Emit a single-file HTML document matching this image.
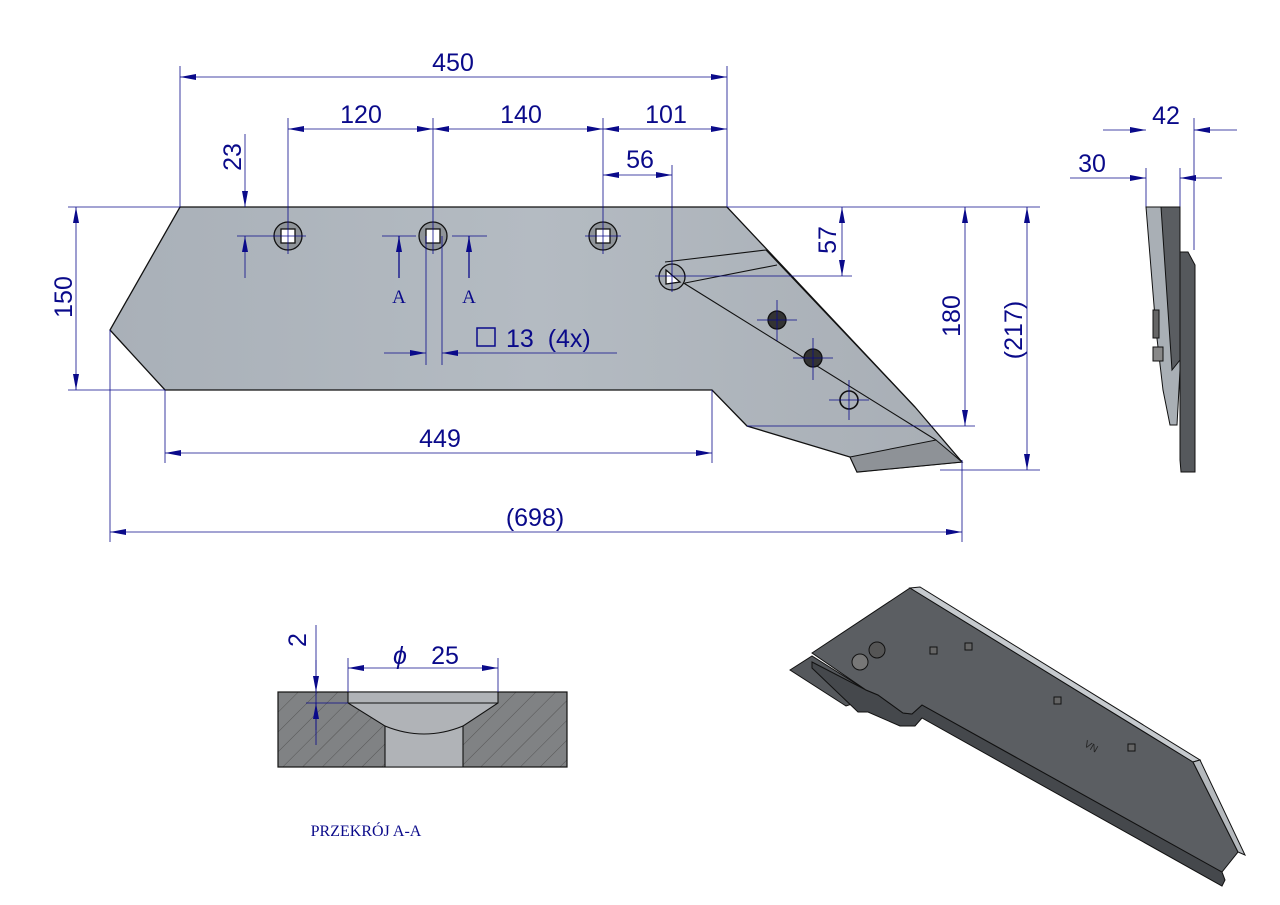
<!DOCTYPE html>
<html><head><meta charset="utf-8"><style>html,body{margin:0;padding:0;background:#fff}svg{display:block}</style></head>
<body>
<svg width="1280" height="905" viewBox="0 0 1280 905" xmlns="http://www.w3.org/2000/svg" font-family="Liberation Sans, sans-serif">
<defs>
<marker id="a" viewBox="0 0 16 6" refX="16" refY="3" markerWidth="16" markerHeight="6" markerUnits="userSpaceOnUse" orient="auto-start-reverse"><path d="M0,0 L16,3 L0,6 z" fill="#0a0a8a"/></marker>
<linearGradient id="g" x1="0" x2="1" y1="0" y2="0"><stop offset="0" stop-color="#a9b0b8"/><stop offset="0.5" stop-color="#b4bbc2"/><stop offset="1" stop-color="#a8aeb5"/></linearGradient>
<pattern id="h" width="14" height="14" patternUnits="userSpaceOnUse" patternTransform="rotate(45)"><rect width="14" height="14" fill="#808284"/><line x1="0" y1="0" x2="0" y2="14" stroke="#555" stroke-width="1"/></pattern>
</defs>
<!-- main blade -->
<polygon points="180,207 727,207 915,407 962,462 857,472 850,457 747,426 712,390 165,390 110,330" fill="url(#g)" stroke="#111" stroke-width="1.3"/>
<polygon points="850,457 936,440 962,462 857,472" fill="#8e9297" stroke="#111" stroke-width="1"/>
<g stroke="#111" stroke-width="1.1" fill="none">
<polyline points="665,262 766,250"/><polyline points="685,283 777,265"/>
<line x1="682" y1="282" x2="936" y2="440"/>
<line x1="766" y1="250" x2="915" y2="407"/>
</g>
<g stroke="#111" stroke-width="1.3">
<circle cx="288" cy="236" r="14" fill="#8f9499"/><rect x="281" y="229" width="14" height="14" fill="#fff"/>
<circle cx="433" cy="236" r="14" fill="#8f9499"/><rect x="426" y="229" width="14" height="14" fill="#fff"/>
<circle cx="603" cy="236" r="14" fill="#8f9499"/><rect x="596" y="229" width="14" height="14" fill="#fff"/>
<circle cx="672" cy="277" r="13" fill="#a6acb2"/><polygon points="666,270 680,282 666,284" fill="#fff"/>
<circle cx="777" cy="320" r="9" fill="#333"/><circle cx="813" cy="358" r="9" fill="#333"/>
<circle cx="849" cy="400" r="9" fill="none" stroke-width="1.6"/>
</g>
<g stroke="#0a0a8a" stroke-width="0.8" fill="none">
<line x1="180" y1="66" x2="180" y2="207"/><line x1="727" y1="66" x2="727" y2="207"/>
<line x1="288" y1="118" x2="288" y2="254"/><line x1="433" y1="118" x2="433" y2="254"/><line x1="603" y1="118" x2="603" y2="254"/>
<line x1="672" y1="165" x2="672" y2="292"/>
<line x1="68" y1="207" x2="180" y2="207"/><line x1="68" y1="390" x2="165" y2="390"/>
<line x1="727" y1="207" x2="1040" y2="207"/>
<line x1="655" y1="276" x2="852" y2="276"/>
<line x1="747" y1="426" x2="975" y2="426"/>
<line x1="940" y1="470" x2="1040" y2="470"/>
<line x1="110" y1="330" x2="110" y2="542"/><line x1="962" y1="460" x2="962" y2="542"/>
<line x1="165" y1="390" x2="165" y2="463"/><line x1="712" y1="390" x2="712" y2="463"/>
<line x1="237" y1="236" x2="306" y2="236"/>
<line x1="382" y1="236" x2="416" y2="236"/><line x1="452" y1="236" x2="487" y2="236"/>
<line x1="585" y1="236" x2="621" y2="236"/>
<line x1="426" y1="236" x2="426" y2="365"/><line x1="442" y1="236" x2="442" y2="365"/>
<line x1="180" y1="77" x2="727" y2="77" marker-start="url(#a)" marker-end="url(#a)"/>
<line x1="288" y1="129" x2="433" y2="129" marker-start="url(#a)" marker-end="url(#a)"/>
<line x1="433" y1="129" x2="603" y2="129" marker-start="url(#a)" marker-end="url(#a)"/>
<line x1="603" y1="129" x2="727" y2="129" marker-start="url(#a)" marker-end="url(#a)"/>
<line x1="603" y1="175" x2="672" y2="175" marker-start="url(#a)" marker-end="url(#a)"/>
<line x1="245" y1="134" x2="245" y2="207" marker-end="url(#a)"/><line x1="245" y1="278" x2="245" y2="236" marker-end="url(#a)"/>
<line x1="76" y1="207" x2="76" y2="390" marker-start="url(#a)" marker-end="url(#a)"/>
<line x1="842" y1="207" x2="842" y2="276" marker-start="url(#a)" marker-end="url(#a)"/>
<line x1="965" y1="207" x2="965" y2="426" marker-start="url(#a)" marker-end="url(#a)"/>
<line x1="1027" y1="207" x2="1027" y2="470" marker-start="url(#a)" marker-end="url(#a)"/>
<line x1="165" y1="453" x2="712" y2="453" marker-start="url(#a)" marker-end="url(#a)"/>
<line x1="110" y1="532" x2="962" y2="532" marker-start="url(#a)" marker-end="url(#a)"/>
<line x1="384" y1="353" x2="426" y2="353" marker-end="url(#a)"/><line x1="617" y1="353" x2="442" y2="353" marker-end="url(#a)"/>
<line x1="399" y1="278" x2="399" y2="236" marker-end="url(#a)" stroke-width="1.3"/><line x1="469" y1="278" x2="469" y2="236" marker-end="url(#a)" stroke-width="1.3"/>
<line x1="757" y1="320" x2="797" y2="320"/><line x1="777" y1="300" x2="777" y2="341"/>
<line x1="793" y1="358" x2="833" y2="358"/><line x1="813" y1="338" x2="813" y2="380"/>
<line x1="829" y1="400" x2="869" y2="400"/><line x1="849" y1="380" x2="849" y2="420"/>
</g>
<!-- texts -->
<g fill="#0a0a8a" font-size="25">
<text x="453" y="71" text-anchor="middle">450</text>
<text x="361" y="123" text-anchor="middle">120</text>
<text x="521" y="123" text-anchor="middle">140</text>
<text x="666" y="123" text-anchor="middle">101</text>
<text x="640" y="168" text-anchor="middle">56</text>
<text transform="translate(241,157) rotate(-90)" text-anchor="middle">23</text>
<text transform="translate(72,297) rotate(-90)" text-anchor="middle">150</text>
<text transform="translate(836,240) rotate(-90)" text-anchor="middle">57</text>
<text transform="translate(960,316) rotate(-90)" text-anchor="middle">180</text>
<text transform="translate(1022,330) rotate(-90)" text-anchor="middle">(217)</text>
<text x="440" y="447" text-anchor="middle">449</text>
<text x="535" y="526" text-anchor="middle">(698)</text>
<text x="506" y="347" xml:space="preserve">13  (4x)</text>
<text x="1166" y="124" text-anchor="middle">42</text>
<text x="1092" y="172" text-anchor="middle">30</text>
<text x="400" y="664" text-anchor="middle" font-style="italic">ϕ</text>
<text x="445" y="664" text-anchor="middle">25</text>
<text transform="translate(306,640) rotate(-90)" text-anchor="middle">2</text>
</g>
<rect x="477" y="328" width="18" height="18" fill="none" stroke="#0a0a8a" stroke-width="1.5"/>
<g fill="#0a0a8a" font-family="Liberation Serif, serif" font-size="19">
<text x="399" y="303" text-anchor="middle">A</text><text x="469" y="303" text-anchor="middle">A</text>
<text x="366" y="836" text-anchor="middle" font-size="16">PRZEKRÓJ A-A</text>
</g>
<!-- side view -->
<g stroke="#0a0a8a" stroke-width="0.8">
<line x1="1146" y1="168" x2="1146" y2="207"/><line x1="1194" y1="118" x2="1194" y2="250"/><line x1="1180" y1="168" x2="1180" y2="207"/>
<line x1="1103" y1="130" x2="1146" y2="130" marker-end="url(#a)"/><line x1="1237" y1="130" x2="1194" y2="130" marker-end="url(#a)"/>
<line x1="1070" y1="178" x2="1146" y2="178" marker-end="url(#a)"/><line x1="1222" y1="178" x2="1180" y2="178" marker-end="url(#a)"/>
</g>
<g stroke="#111" stroke-width="1">
<polygon points="1146,207 1180,207 1180,370 1177,425 1170,425 1163,390 1156,330" fill="#a9afb5"/>
<polygon points="1161,207 1180,207 1180,360 1172,370" fill="#5a5d61"/>
<polygon points="1180,252 1188,252 1195,265 1195,472 1181,472 1180,460" fill="#55585c"/>
<rect x="1153" y="310" width="6" height="28" fill="#666"/><rect x="1153" y="347" width="10" height="14" fill="#888"/>
</g>
<!-- section -->
<rect x="278" y="692" width="289" height="75" fill="url(#h)" stroke="#111" stroke-width="1.2"/>
<polygon points="348,692 498,692 498,703 463,726 463,767 385,767 385,726 348,703" fill="#b0b3b7" stroke="#111" stroke-width="1.1"/>
<line x1="348" y1="703" x2="498" y2="703" stroke="#111"/>
<path d="M385,726 Q424,742 463,726" fill="none" stroke="#111" stroke-width="1.1"/>
<g stroke="#0a0a8a" stroke-width="0.8">
<line x1="348" y1="658" x2="348" y2="692"/><line x1="498" y1="658" x2="498" y2="692"/>
<line x1="348" y1="668" x2="498" y2="668" marker-start="url(#a)" marker-end="url(#a)"/>
<line x1="316" y1="625" x2="316" y2="745"/>
<line x1="316" y1="660" x2="316" y2="692" marker-end="url(#a)"/><line x1="316" y1="730" x2="316" y2="703" marker-end="url(#a)"/>
<line x1="306" y1="703" x2="348" y2="703"/>
</g>
<!-- 3D view -->
<g stroke="#111" stroke-width="1">
<polygon points="790,670 812,656 866,690 858,702 846,706" fill="#55585c"/>
<polygon points="812,662 866,690 878,695 903,713 912,714 922,705 1222,872 1225,880 1222,886 922,718 915,726 900,726 868,712 858,712 812,668" fill="#45484c"/>
<polygon points="812,653 910,588 1193,762 1238,852 1222,872 922,705 912,714 903,713 878,695 866,690" fill="#5b5e62"/>
<polygon points="910,588 920,587 1200,760 1193,762" fill="#c6cace"/>
<polygon points="1193,762 1200,760 1245,855 1238,852" fill="#b5b9bd"/>
<circle cx="860" cy="662" r="8" fill="#777"/><circle cx="877" cy="650" r="8" fill="#555"/>
<rect x="930" y="647" width="7" height="7" fill="#666"/><rect x="965" y="643" width="7" height="7" fill="#666"/>
<rect x="1054" y="697" width="7" height="7" fill="#666"/><rect x="1128" y="744" width="7" height="7" fill="#666"/>
</g>
<text x="1085" y="750" font-size="10" fill="#222" transform="rotate(30 1092 745)">VN</text>
</svg>
</body></html>
